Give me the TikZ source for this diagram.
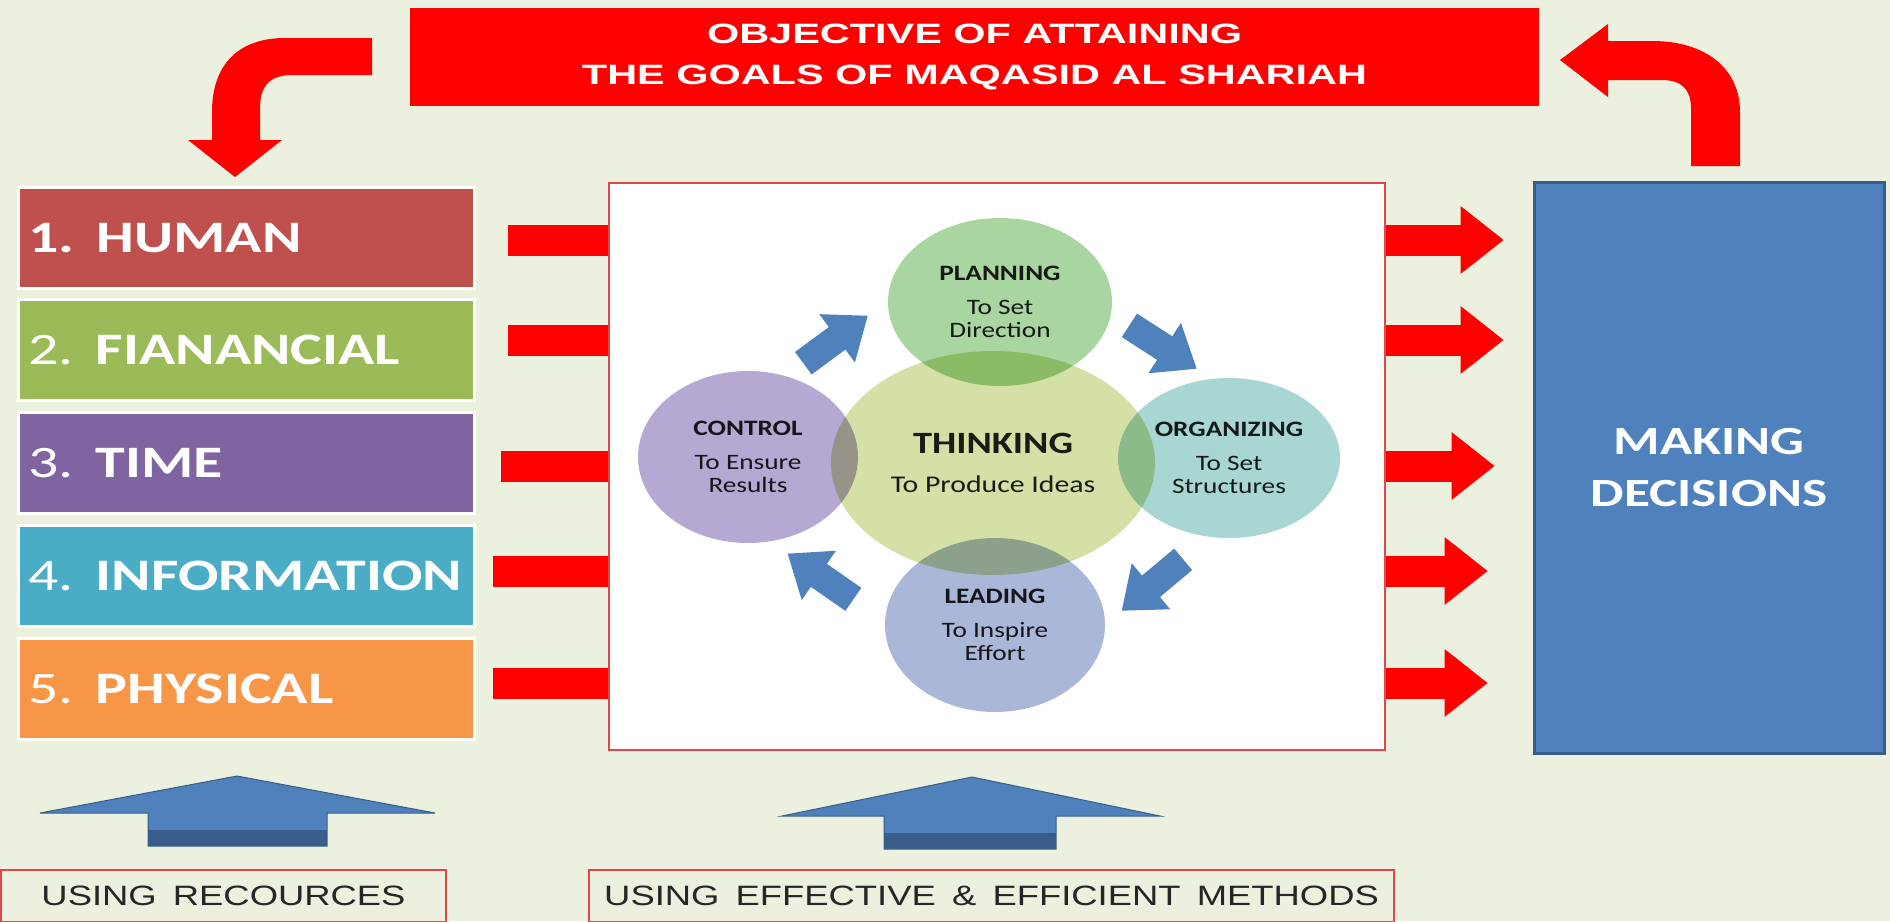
\documentclass[tikz,border=0pt]{standalone}
\usepackage{fontspec}
\usepackage{tikz}
\usetikzlibrary{shapes.geometric}
\newfontfamily\calfont[FakeStretch=1.33]{Carlito}
\newfontfamily\cycfont[FakeStretch=1.24]{Carlito}
\newfontfamily\banfont[FakeStretch=1.48]{Liberation Sans}
\newfontfamily\labfont[FakeStretch=1.3,WordSpace=1.6]{Liberation Sans}
\definecolor{paper}{HTML}{EBF1DE}
\definecolor{human}{HTML}{C0504D}
\definecolor{money}{HTML}{9BBB59}
\definecolor{restime}{HTML}{8064A2}
\definecolor{info}{HTML}{4BACC6}
\definecolor{phys}{HTML}{F79646}
\definecolor{officeblue}{HTML}{4F81BD}
\definecolor{darkblue}{HTML}{385D8A}
\definecolor{boxred}{HTML}{E04848}
\definecolor{thinkcol}{HTML}{D4E0A6}
\definecolor{plancol}{HTML}{A9D5A1}
\definecolor{ctrlcol}{HTML}{B5A8D2}
\definecolor{orgacol}{HTML}{A8D6D2}
\definecolor{leadcol}{HTML}{AAB7D8}
\tikzset{
  banner/.style={fill=red, minimum width=1129pt, minimum height=98pt, inner sep=0pt,
    align=center, text=white, font=\banfont\bfseries\fontsize{28}{41}\selectfont},
  resbox/.style={draw=white, line width=3pt, minimum height=101pt, text width=436pt,
    inner xsep=10pt, inner ysep=0pt, align=left, text=white,
    font=\calfont\bfseries\fontsize{45}{50}\selectfont},
  decbox/.style={fill=officeblue, draw=darkblue, line width=3pt, minimum width=350pt,
    minimum height=571pt, align=center, text=white,
    font=\calfont\bfseries\fontsize{40}{52}\selectfont},
  circ/.style={ellipse, inner sep=0pt, align=center, text=black!88,
    font=\cycfont\fontsize{22}{23}\selectfont},
  redlink/.style={draw=red, line width=31pt},
  labbox/.style={draw=boxred, line width=1.5pt, minimum height=52pt, inner sep=0pt,
    text=black!85, font=\labfont\fontsize{28}{30}\selectfont}
}

\begin{document}
\begin{tikzpicture}[x=1pt, y=-1pt]
\useasboundingbox (0,0) rectangle (1890,921);
\fill[paper] (0,0) rectangle (1890,921);

\node[banner] (goal) at (974.5,57) {OBJECTIVE OF ATTAINING\\THE GOALS OF MAQASID AL SHARIAH};

\fill[red] (372,38) -- (285,38) .. controls (238,38) and (212,65) .. (212,112) -- (212,140)
  -- (188,140) -- (235,177) -- (282,140) -- (260,140) -- (260,108)
  .. controls (260,88) and (268,75) .. (292,75) -- (372,75) -- cycle;
\fill[red] (1691,166) -- (1691,108) .. controls (1691,90) and (1682,80) .. (1662,80)
  -- (1608,80) -- (1608,97) -- (1560,60) -- (1608,24) -- (1608,41) -- (1652,41)
  .. controls (1705,41) and (1740,68) .. (1740,112) -- (1740,166) -- cycle;

\node[resbox, fill=human] (res1) at (246,238) {1. HUMAN};
\node[resbox, fill=money] (res2) at (246,350) {\mdseries 2. \bfseries FIANANCIAL};
\node[resbox, fill=restime] (res3) at (246,463) {\mdseries 3. \bfseries TIME};
\node[resbox, fill=info] (res4) at (246,576) {\mdseries 4. \bfseries INFORMATION};
\node[resbox, fill=phys] (res5) at (246,689) {\mdseries 5. \bfseries PHYSICAL};

\node[decbox] (dec) at (1709,467.5) {MAKING\\DECISIONS};

\foreach \i/\dy/\s/\t in {1/-2/32/29, 2/10/32/29, 3/-3/25/38, 4/5/17/45, 5/6/17/45}{
  \coordinate (from\i) at ([xshift=\s pt, yshift=\dy pt]res\i.east);
  \coordinate (to\i) at ([xshift=-\t pt]from\i -| dec.west);
  \draw[redlink] (from\i) -- ([xshift=-43pt]to\i);
  \fill[red] ([xshift=-43pt, yshift=34pt]to\i) -- (to\i) -- ([xshift=-43pt, yshift=-34pt]to\i) -- cycle;
}

\node[draw=boxred, fill=white, line width=1.5pt, minimum width=776pt, minimum height=567pt]
  (mgmt) at (997,466.5) {};

\begin{scope}[blend group=multiply]
\node[circ, fill=thinkcol, minimum width=324pt, minimum height=224pt] (think) at (993,463)
  {{\fontsize{31}{34}\selectfont\bfseries THINKING}\\[16pt]{\fontsize{24}{26}\selectfont To Produce Ideas}};
\node[circ, fill=plancol, minimum width=224pt, minimum height=168pt] (plan) at (1000,302)
  {{\bfseries PLANNING}\\[11pt]To Set\\Direction};
\node[circ, fill=ctrlcol, minimum width=220pt, minimum height=172pt] (ctrl) at (748,457)
  {{\bfseries CONTROL}\\[11pt]To Ensure\\Results};
\node[circ, fill=orgacol, minimum width=222pt, minimum height=160pt] (orga) at (1229,458)
  {{\bfseries ORGANIZING}\\[11pt]To Set\\Structures};
\node[circ, fill=leadcol, minimum width=220pt, minimum height=174pt] (lead) at (995,625)
  {{\bfseries LEADING}\\[11pt]To Inspire\\Effort};
\end{scope}

\foreach \x/\y/\a in {835.5/339.5/36.4, 1163/347/-32.8, 1152.5/585/-140.1, 820.5/576.5/145.2}
  \fill[officeblue, shift={(\x,\y)}, rotate=\a] (-40,14) -- (2,14) -- (2,30) -- (40,0)
    -- (2,-30) -- (2,-14) -- (-40,-14) -- cycle;

\filldraw[fill=officeblue, draw=darkblue, line width=1pt] (237,776) -- (435,813) -- (327,813)
  -- (327,846) -- (148,846) -- (148,813) -- (40,813) -- cycle;
\fill[darkblue] (148,830) rectangle (327,846);
\filldraw[fill=officeblue, draw=darkblue, line width=1pt] (972,777) -- (1160,816) -- (1056,816)
  -- (1056,849) -- (884,849) -- (884,816) -- (782,816) -- cycle;
\fill[darkblue] (884,833) rectangle (1056,849);

\node[labbox, minimum width=445pt] (lab1) at (223.5,896) {USING RECOURCES};
\node[labbox, minimum width=805pt] (lab2) at (991.5,896) {USING EFFECTIVE \& EFFICIENT METHODS};
\end{tikzpicture}
\end{document}
